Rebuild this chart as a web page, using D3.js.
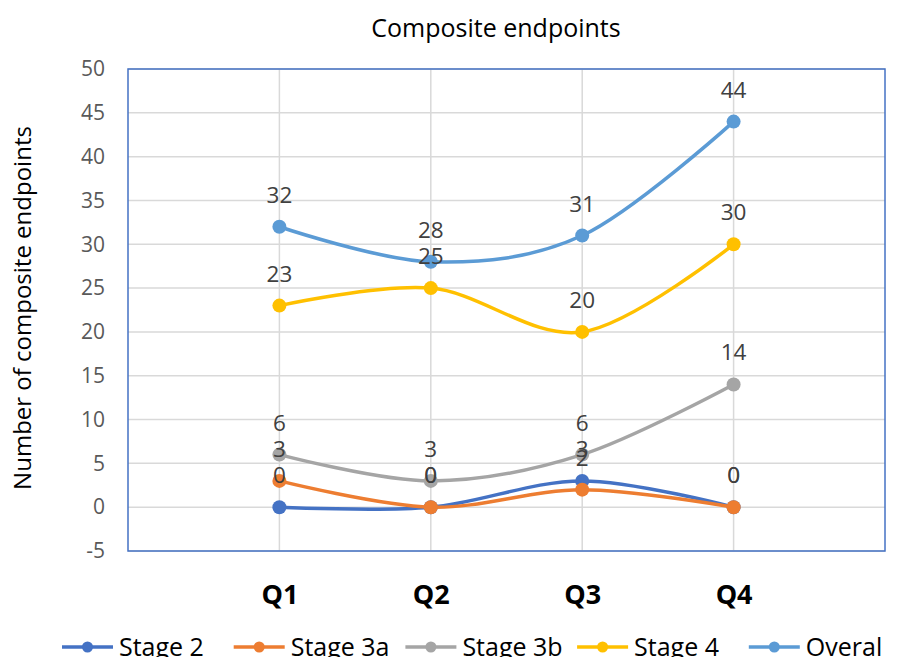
<!DOCTYPE html>
<html><head><meta charset="utf-8">
<script src="https://cdn.jsdelivr.net/npm/d3@7"></script>
<style>body{margin:0;background:#fff}svg{display:block;font-family:"Open Sans",sans-serif}</style>
</head><body><svg id="c" width="916" height="657"></svg>
<script>
const categories = ["Q1","Q2","Q3","Q4"];
const seriesNames = ["Stage 2","Stage 3a","Stage 3b","Stage 4","Overal"];
const stage2 = [0,0,3,0];
const stage3a = [3,0,2,0];
const stage3b = [6,3,6,14];
const stage4 = [23,25,20,30];
const overall = [32,28,31,44];
const colors = ["#4472C4","#ED7D31","#A5A5A5","#FFC000","#5B9BD5"];
const yTicks = [-5,0,5,10,15,20,25,30,35,40,45,50];
const title = "Composite endpoints";
const yTitle = "Number of composite endpoints";

const series = [stage2, stage3a, stage3b, stage4, overall].map((v,i)=>({name:seriesNames[i], values:v, color:colors[i]}));

const FONT = "'Open Sans',sans-serif";
const svg = d3.select("#c");
const L=128,R=885,T=69,B=551;
const x = d3.scalePoint().domain(categories).range([L,R]).padding(1);
const y = d3.scaleLinear().domain([-5,50]).range([B,T]);

// gridlines
svg.append("g").selectAll("line").data(yTicks).join("line")
  .attr("x1",L).attr("x2",R).attr("y1",d=>y(d)).attr("y2",d=>y(d))
  .attr("stroke","#D9D9D9").attr("stroke-width",1.5);
svg.append("g").selectAll("line").data(categories).join("line")
  .attr("x1",d=>x(d)).attr("x2",d=>x(d)).attr("y1",T).attr("y2",B)
  .attr("stroke","#D9D9D9").attr("stroke-width",1.5);
svg.append("rect").attr("x",L).attr("y",T).attr("width",R-L).attr("height",B-T)
  .attr("fill","none").attr("stroke","#4472C4").attr("stroke-width",1.5);

// y axis
const ya = svg.append("g").attr("transform",`translate(${L},0)`)
  .call(d3.axisLeft(y).tickValues(yTicks).tickFormat(d=>String(d)).tickSize(0).tickPadding(23));
ya.select(".domain").remove();
ya.selectAll("text").attr("font-size",21).attr("fill","#595959").attr("font-family",FONT);

// x axis
const xa = svg.append("g").attr("transform",`translate(0,${B})`)
  .call(d3.axisBottom(x).tickSize(0).tickPadding(34));
xa.select(".domain").remove();
xa.selectAll("text").attr("font-size",27).attr("font-weight","bold").attr("fill","#000").attr("font-family",FONT);

// lines
const line = d3.line().x((d,i)=>x(categories[i])).y(d=>y(d)).curve(d3.curveCardinal.tension(0));
series.forEach(s=>{
  const g = svg.append("g");
  g.append("path").attr("d",line(s.values)).attr("fill","none").attr("stroke",s.color).attr("stroke-width",3.5);
  g.selectAll("circle").data(s.values).join("circle")
    .attr("cx",(d,i)=>x(categories[i])).attr("cy",d=>y(d)).attr("r",7).attr("fill",s.color);
});
// labels
series.forEach(s=>{
  svg.append("g").selectAll("text").data(s.values).join("text")
    .attr("x",(d,i)=>x(categories[i])).attr("y",d=>y(d)-24)
    .attr("text-anchor","middle").attr("font-size",22.5).attr("fill","#404040").text(d=>d);
});

// title
svg.append("text").attr("x",496).attr("y",37).attr("text-anchor","middle").attr("font-size",25).attr("fill","#000").text(title);
svg.append("text").attr("transform","translate(31,308) rotate(-90)").attr("text-anchor","middle").attr("font-size",24).attr("fill","#000").text(yTitle);

// legend
const lg = svg.append("g").attr("transform","translate(62,647)");
series.forEach((s,i)=>{
  const g = lg.append("g").attr("transform",`translate(${i*171.7},0)`);
  g.append("line").attr("x1",0).attr("x2",51).attr("y1",0).attr("y2",0).attr("stroke",s.color).attr("stroke-width",3.5);
  g.append("circle").attr("cx",25.5).attr("cy",0).attr("r",5.5).attr("fill",s.color);
  g.append("text").attr("x",57).attr("y",8.5).attr("font-size",25).attr("fill","#000").text(s.name);
});
</script></body></html>
